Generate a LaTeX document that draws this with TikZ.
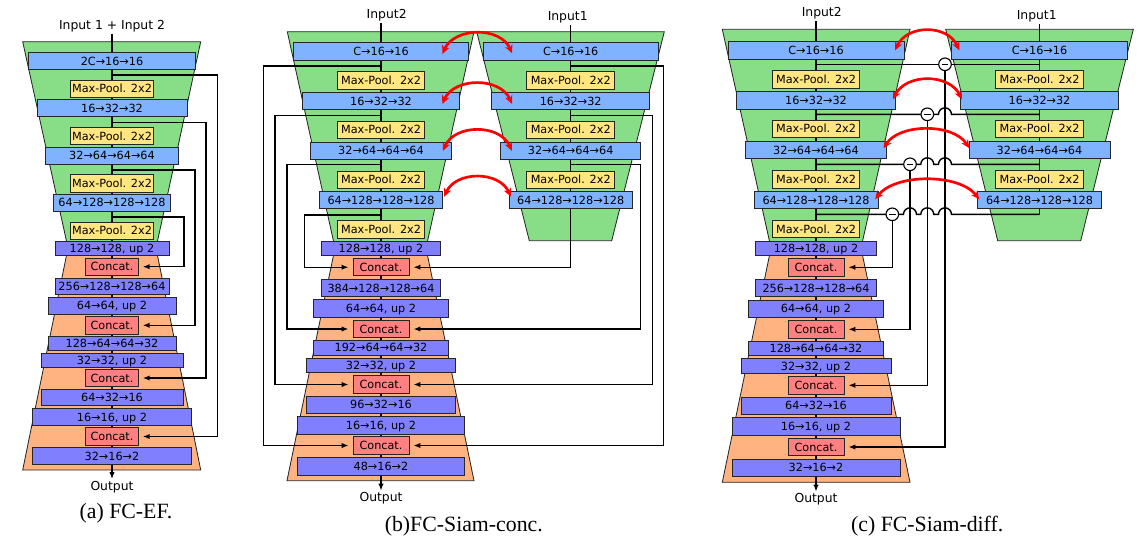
\documentclass[tikz,border=0pt]{standalone}
\usepackage{fontspec}
\setmainfont{DejaVu Sans}
\newfontfamily\capfont{Liberation Serif}
\usepackage{tikz}
\usetikzlibrary{arrows.meta, positioning, calc}
\usepackage{xcolor}
\definecolor{encgreen}{HTML}{87DE87}
\definecolor{decorange}{HTML}{FFB380}
\definecolor{encblue}{HTML}{80B3FF}
\definecolor{decblue}{HTML}{8080FF}
\definecolor{poolyellow}{HTML}{FFE680}
\definecolor{catred}{HTML}{FF8080}
\newcommand{\pxu}{0.71132pt}

\begin{document}
\begin{tikzpicture}[x=0.025cm, y=-0.025cm, >={Latex[length=5pt,width=3.8pt]},
    bw/.style={minimum width=#1*\pxu}, bh/.style={minimum height=#1*\pxu}]
    \tikzstyle{blk}=[draw=black!85, line width=0.6pt, inner sep=0pt, font=\fontsize{8}{8}\selectfont, text height=5.8pt, text depth=0pt]
    \tikzstyle{enc}=[blk, fill=encblue, bh=17.2]
    \tikzstyle{dec}=[blk, fill=decblue]
    \tikzstyle{pool}=[blk, fill=poolyellow, bh=17.4]
    \tikzstyle{cat}=[blk, fill=catred, bh=17.4]
    \tikzstyle{lbl}=[inner sep=1pt, font=\fontsize{8.8}{10}\selectfont]
    \tikzstyle{capt}=[inner sep=0pt, font=\capfont\fontsize{15.5}{17}\selectfont]
    \tikzstyle{encbody}=[fill=encgreen, draw=black!85, line width=0.6pt]
    \tikzstyle{decbody}=[fill=decorange, draw=black!85, line width=0.6pt]
    \tikzstyle{trunk}=[line width=1pt]
    \tikzstyle{skipline}=[line width=1pt, ->, shorten >=2.8pt]
    \tikzstyle{redarc}=[red, line width=1.9pt, {Stealth[length=6pt,width=5.5pt]}-{Stealth[length=6pt,width=5.5pt]}]
    \tikzstyle{subnode}=[circle, draw, fill=white, line width=0.8pt, minimum size=12.6*\pxu, inner sep=0pt,
        path picture={\draw[line width=1pt] ([xshift=2.2pt]path picture bounding box.west) -- ([xshift=-2.2pt]path picture bounding box.east);}]

    \useasboundingbox (0,0) rectangle (1142,546);

    % (a) FC-EF
    \node[lbl] (ina) at (112,26) {Input 1 + Input 2};
    \node[lbl] (outa) at (112,486.7) {Output};
    \node[capt] (capa) at (126,513) {(a) FC-EF.};

    \filldraw[encbody] (22.7,41.7) -- (200.7,41.7) -- (156,248) -- (68,248) -- cycle;
    \filldraw[decbody] (68,248) -- (156,248) -- (200.7,470) -- (22.7,470) -- cycle;

    \coordinate (ka1) at (112,75);
    \coordinate (ka2) at (112,122.7);
    \coordinate (ka3) at (112,170);
    \coordinate (ka4) at (112,217);
    \draw[trunk,->] (ina.south) -- (outa.north);

    \node[enc, bw=167] (A1) at (112,61) {2C→16→16};
    \node[pool, bw=83] (AP1) at (112,88.8) {Max-Pool. 2x2};
    \node[enc, bw=150] (A2) at (112,108.3) {16→32→32};
    \node[pool, bw=83] (AP2) at (112,136) {Max-Pool. 2x2};
    \node[enc, bw=133.4] (A3) at (112,155.8) {32→64→64→64};
    \node[pool, bw=83] (AP3) at (112,183.3) {Max-Pool. 2x2};
    \node[enc, bw=117] (A4) at (112,202.8) {64→128→128→128};
    \node[pool, bw=83] (AP4) at (112,230.7) {Max-Pool. 2x2};
    \node[dec, bw=114, bh=14] (A5) at (112,248.7) {128→128, up 2};
    \node[cat, bw=52.6] (AC1) at (112,266.7) {Concat.};
    \node[dec, bw=114, bh=16] (A6) at (112,286.3) {256→128→128→64};
    \node[dec, bw=128, bh=16.7] (A7) at (112,305.7) {64→64, up 2};
    \node[cat, bw=52.6] (AC2) at (112,325.3) {Concat.};
    \node[dec, bw=128, bh=14.4] (A8) at (112,343.5) {128→64→64→32};
    \node[dec, bw=142, bh=14] (A9) at (112,360) {32→32, up 2};
    \node[cat, bw=52.6] (AC3) at (112,378) {Concat.};
    \node[dec, bw=142, bh=16] (A10) at (112,397.7) {64→32→16};
    \node[dec, bw=158.6, bh=16.6] (A11) at (112,417) {16→16, up 2};
    \node[cat, bw=52.6] (AC4) at (112,436.5) {Concat.};
    \node[dec, bw=158.6, bh=16.6] (A12) at (112,456) {32→16→2};

    \draw[skipline] (ka1) -- ++(105.3,0) |- (AC4.east);
    \draw[skipline] (ka2) -- ++(94,0) |- (AC3.east);
    \draw[skipline] (ka3) -- ++(83,0) |- (AC2.east);
    \draw[skipline] (ka4) -- ++(72,0) |- (AC1.east);

    % (b) FC-Siam-conc
    \node[lbl] (i2b) at (386.7,15) {Input2};
    \node[lbl] (i1b) at (567.7,17.7) {Input1};
    \node[lbl] (outb) at (381,498.3) {Output};
    \node[capt] (capb) at (463.8,526) {(b)FC-Siam-conc.};

    \filldraw[encbody] (287.3,31.7) -- (474,31.7) -- (426,248) -- (335,248) -- cycle;
    \filldraw[decbody] (335,248) -- (426,248) -- (474,480.7) -- (287,480.7) -- cycle;
    \filldraw[encbody] (476.7,31.7) -- (664.3,31.7) -- (611.7,240.7) -- (529.3,240.7) -- cycle;

    \coordinate (kb1) at (381,66);
    \coordinate (kb2) at (381,115.7);
    \coordinate (kb3) at (381,164.7);
    \coordinate (kb4) at (381,215);
    \coordinate (kbr1) at (570.7,66);
    \coordinate (kbr2) at (570.7,115.7);
    \coordinate (kbr3) at (570.7,164.7);
    \coordinate (kbr4) at (570.7,267.2);
    \draw[trunk,->] (i2b.south -| kb1) -- (outb.north);
    \draw[trunk] (i1b.south -| kbr1) -- (kbr4);

    \node[enc, bw=175, bh=17.6] (B1) at (381,51.5) {C→16→16};
    \node[pool, bw=87.7] (BP1) at (381,80.5) {Max-Pool. 2x2};
    \node[enc, bw=157.7] (B2) at (381,101.3) {16→32→32};
    \node[pool, bw=87.7] (BP2) at (381,129.8) {Max-Pool. 2x2};
    \node[enc, bw=140.3] (B3) at (381,150.8) {32→64→64→64};
    \node[pool, bw=87.7] (BP3) at (381,179.8) {Max-Pool. 2x2};
    \node[enc, bw=122.7] (B4) at (381,200.3) {64→128→128→128};
    \node[pool, bw=87.7] (BP4) at (381,229.5) {Max-Pool. 2x2};
    \node[dec, bw=119.7, bh=14.3] (B5) at (381,248.5) {128→128, up 2};
    \node[cat, bw=56] (BC1) at (381,267.2) {Concat.};
    \node[dec, bw=119.7, bh=17.4] (B6) at (381,288) {384→128→128→64};
    \node[dec, bw=134.3, bh=18] (B7) at (381,308.3) {64→64, up 2};
    \node[cat, bw=56] (BC2) at (381,329) {Concat.};
    \node[dec, bw=134.3, bh=15] (B8) at (381,347.8) {192→64→64→32};
    \node[dec, bw=149, bh=14.3] (B9) at (381,365.2) {32→32, up 2};
    \node[cat, bw=56] (BC3) at (381,384.5) {Concat.};
    \node[dec, bw=149, bh=17.7] (B10) at (381,404.8) {96→32→16};
    \node[dec, bw=166.6, bh=17.3] (B11) at (381,425.3) {16→16, up 2};
    \node[cat, bw=56] (BC4) at (381,445.5) {Concat.};
    \node[dec, bw=166.6, bh=17.3] (B12) at (381,466.3) {48→16→2};

    \node[enc, bw=175, bh=17.6] (BR1) at (570.7,51.5) {C→16→16};
    \node[pool, bw=87.7] (BRP1) at (570.7,80.5) {Max-Pool. 2x2};
    \node[enc, bw=157.7] (BR2) at (570.7,101.3) {16→32→32};
    \node[pool, bw=87.7] (BRP2) at (570.7,129.8) {Max-Pool. 2x2};
    \node[enc, bw=140.3] (BR3) at (570.7,150.8) {32→64→64→64};
    \node[pool, bw=87.7] (BRP3) at (570.7,179.8) {Max-Pool. 2x2};
    \node[enc, bw=122.7] (BR4) at (570.7,200.3) {64→128→128→128};

    \draw[skipline] (kb1) -- ++(-117.7,0) |- (BC4.west);
    \draw[skipline] (kb2) -- ++(-106,0) |- (BC3.west);
    \draw[skipline] (kb3) -- ++(-94,0) |- (BC2.west);
    \draw[skipline] (kb4) -- ++(-76.7,0) |- (BC1.west);
    \draw[skipline] (kbr1) -- ++(92.6,0) |- (BC4.east);
    \draw[skipline] (kbr2) -- ++(82,0) |- (BC3.east);
    \draw[skipline] (kbr3) -- ++(69.6,0) |- (BC2.east);
    \draw[skipline] (kbr4) -- (BC1.east);

    \draw[redarc] ([shift={(-26.6,2.5)}]B1.east) .. controls +(12,-27) and +(-12,-27) .. ([shift={(29.4,1.8)}]BR1.west);
    \draw[redarc] ([shift={(-18,2.7)}]B2.east) .. controls +(12,-27) and +(-12,-27) .. ([shift={(20.7,2.7)}]BR2.west);
    \draw[redarc] ([shift={(-8.7,0)}]B3.east) .. controls +(12,-27) and +(-12,-27) .. ([shift={(11.7,0)}]BR3.west);
    \draw[redarc] ([shift={(1.3,-3.6)}]B4.east) .. controls +(12,-26) and +(-12,-26) .. ([shift={(2,-3.6)}]BR4.west);

    % (c) FC-Siam-diff
    \node[lbl] (i2c) at (821.7,13.3) {Input2};
    \node[lbl] (i1c) at (1036.7,16.7) {Input1};
    \node[lbl] (outc) at (816,499.3) {Output};
    \node[capt] (capc) at (927.2,526) {(c) FC-Siam-diff.};

    \filldraw[encbody] (722.3,29.3) -- (910,29.3) -- (861,248) -- (771,248) -- cycle;
    \filldraw[decbody] (771,248) -- (861,248) -- (910,482.3) -- (722.3,482.3) -- cycle;
    \filldraw[encbody] (945.7,29.3) -- (1133.3,29.3) -- (1080.7,240.7) -- (997.7,240.7) -- cycle;

    \coordinate (kc1) at (816,64.3);
    \coordinate (kc2) at (816,114.3);
    \coordinate (kc3) at (816,164.3);
    \coordinate (kc4) at (816,214.3);
    \coordinate (kcr1) at (1039.5,64.3);
    \coordinate (kcr2) at (1039.5,114.3);
    \coordinate (kcr3) at (1039.5,164.3);
    \coordinate (kcr4) at (1039.5,214.3);
    \coordinate (d1) at (945,64.3);
    \coordinate (d2) at (927.3,114.3);
    \coordinate (d3) at (910,164.3);
    \coordinate (d4) at (892.3,214.3);
    \draw[trunk,->] (i2c.south -| kc1) -- (outc.north);
    \draw[trunk] (i1c.south -| kcr1) -- (kcr4);

    \node[enc, bw=176, bh=17.3] (C1) at (816,50.3) {C→16→16};
    \node[pool, bw=87.3] (CP1) at (816,79.5) {Max-Pool. 2x2};
    \node[enc, bw=158.3] (C2) at (816,100.5) {16→32→32};
    \node[pool, bw=87.3] (CP2) at (816,128.7) {Max-Pool. 2x2};
    \node[enc, bw=141] (C3) at (816,150.2) {32→64→64→64};
    \node[pool, bw=87.3] (CP3) at (816,179.5) {Max-Pool. 2x2};
    \node[enc, bw=124] (C4) at (816,200.3) {64→128→128→128};
    \node[pool, bw=87.3] (CP4) at (816,229.2) {Max-Pool. 2x2};
    \node[dec, bw=120.4, bh=14.4] (C5) at (816,248.6) {128→128, up 2};
    \node[cat, bw=56] (CC1) at (816,267.3) {Concat.};
    \node[dec, bw=120.4, bh=17] (C6) at (816,288.2) {256→128→128→64};
    \node[dec, bw=135.7, bh=17.3] (C7) at (816,308.7) {64→64, up 2};
    \node[cat, bw=56] (CC2) at (816,329.3) {Concat.};
    \node[dec, bw=135.7, bh=14.7] (C8) at (816,348.3) {128→64→64→32};
    \node[dec, bw=150, bh=14.6] (C9) at (816,366) {32→32, up 2};
    \node[cat, bw=56] (CC3) at (816,385.3) {Concat.};
    \node[dec, bw=150, bh=17] (C10) at (816,405.8) {64→32→16};
    \node[dec, bw=168, bh=17.3] (C11) at (816,426.3) {16→16, up 2};
    \node[cat, bw=56] (CC4) at (816,447) {Concat.};
    \node[dec, bw=168, bh=17.3] (C12) at (816,467.7) {32→16→2};

    \node[enc, bw=176, bh=17.3] (CR1) at (1039.5,50.3) {C→16→16};
    \node[pool, bw=87.3] (CRP1) at (1039.5,79.5) {Max-Pool. 2x2};
    \node[enc, bw=158.3] (CR2) at (1039.5,100.5) {16→32→32};
    \node[pool, bw=87.3] (CRP2) at (1039.5,128.7) {Max-Pool. 2x2};
    \node[enc, bw=141] (CR3) at (1039.5,150.2) {32→64→64→64};
    \node[pool, bw=87.3] (CRP3) at (1039.5,179.5) {Max-Pool. 2x2};
    \node[enc, bw=123.7] (CR4) at (1039.5,200.3) {64→128→128→128};

    \draw[trunk] (kc1) -- (kcr1);
    \draw[trunk] (kc2) -- ($(d1 |- kc2)+(-6.5,0)$) arc[start angle=180, end angle=0, radius=4.6pt] -- (kcr2);
    \draw[trunk] (kc3) -- ($(d2 |- kc3)+(-6.5,0)$) arc[start angle=180, end angle=0, radius=4.6pt]
        -- ($(d1 |- kc3)+(-6.5,0)$) arc[start angle=180, end angle=0, radius=4.6pt] -- (kcr3);
    \draw[trunk] (kc4) -- ($(d3 |- kc4)+(-6.5,0)$) arc[start angle=180, end angle=0, radius=4.6pt]
        -- ($(d2 |- kc4)+(-6.5,0)$) arc[start angle=180, end angle=0, radius=4.6pt]
        -- ($(d1 |- kc4)+(-6.5,0)$) arc[start angle=180, end angle=0, radius=4.6pt] -- (kcr4);
    \draw[skipline] (d1) |- (CC4.east);
    \draw[skipline] (d2) |- (CC3.east);
    \draw[skipline] (d3) |- (CC2.east);
    \draw[skipline] (d4) |- (CC1.east);
    \node[subnode] (D1) at (d1) {};
    \node[subnode] (D2) at (d2) {};
    \node[subnode] (D3) at (d3) {};
    \node[subnode] (D4) at (d4) {};

    \draw[redarc] ([shift={(-9.3,0)}]C1.east) .. controls +(12,-26) and +(-12,-26) .. ([shift={(8.3,0)}]CR1.west);
    \draw[redarc] ([shift={(-2.6,-1.2)}]C2.east) .. controls +(13,-26) and +(-13,-26) .. ([shift={(2,-1.2)}]CR2.west);
    \draw[redarc] ([shift={(-3.4,-2)}]C3.east) .. controls +(16,-25) and +(-16,-25) .. ([shift={(0.7,-2)}]CR3.west);
    \draw[redarc] ([shift={(-3.3,-1)}]C4.east) .. controls +(20,-26) and +(-20,-26) .. ([shift={(2,-1)}]CR4.west);
\end{tikzpicture}
\end{document}
